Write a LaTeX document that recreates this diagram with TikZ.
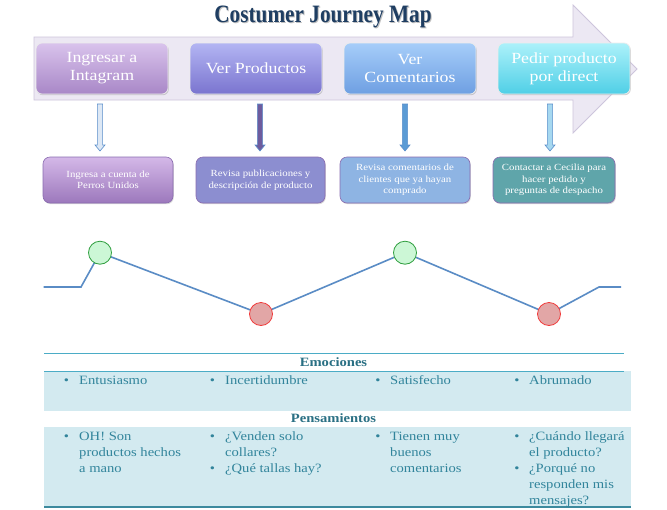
\documentclass[tikz,border=0pt]{standalone}
\usepackage{fontspec}
\setmainfont[FakeStretch=1.15]{Liberation Serif}
\newfontfamily\titlefont[FakeStretch=0.85]{Liberation Serif}
\usetikzlibrary{shadows}
\definecolor{titleblue}{HTML}{1F3E62}
\definecolor{tealtxt}{HTML}{31849B}
\definecolor{tealline}{HTML}{4BACC6}
\definecolor{bandfill}{HTML}{D3EAF0}
\definecolor{bigfill}{HTML}{ECE8F3}
\definecolor{bigdraw}{HTML}{CDC5DC}
\definecolor{chartline}{HTML}{5A8CC5}
\definecolor{goodfill}{HTML}{CCF7D6}
\definecolor{gooddraw}{HTML}{2E9E3E}
\definecolor{badfill}{HTML}{E2A6A6}
\definecolor{baddraw}{HTML}{F03C3C}
\definecolor{arrdraw}{HTML}{5B8FCB}
\definecolor{descdraw}{HTML}{8A6CB0}
\definecolor{sAtop}{HTML}{D9C3EC}\definecolor{sAbot}{HTML}{A887C7}
\definecolor{sBtop}{HTML}{B3B5F3}\definecolor{sBbot}{HTML}{7A74CF}
\definecolor{sCtop}{HTML}{A6CDF9}\definecolor{sCbot}{HTML}{6E9FE2}
\definecolor{sDtop}{HTML}{ACF1FA}\definecolor{sDbot}{HTML}{4FCFE6}
\definecolor{dAtop}{HTML}{D4B8E8}\definecolor{dAbot}{HTML}{9C78BC}
\definecolor{dB}{HTML}{8C8ED0}
\definecolor{dC}{HTML}{8EB4E3}
\definecolor{dD}{HTML}{5FA5AA}
\definecolor{aA}{HTML}{DDE8F5}
\definecolor{aB}{HTML}{6E5C9E}
\definecolor{aC}{HTML}{5B9BD5}
\definecolor{aD}{HTML}{A6D8F0}
\begin{document}
\begin{tikzpicture}[x=1pt,y=-1pt,
  stepbox/.style={rounded corners=6pt, minimum width=132pt, minimum height=51pt,
    text=white, align=center, inner sep=2pt, draw=white!85!gray, line width=0.7pt,
    drop shadow={shadow xshift=0.8pt, shadow yshift=-1.2pt, opacity=0.35},
    font=\fontsize{15.5}{18}\selectfont},
  descbox/.style={rounded corners=7pt, minimum height=46pt, text=white, align=center,
    inner sep=2pt, draw=descdraw, line width=0.6pt,
    drop shadow={shadow xshift=0.8pt, shadow yshift=-1.2pt, opacity=0.3},
    font=\fontsize{9.4}{11.5}\selectfont},
  blockarrow/.style={draw=arrdraw, line width=0.6pt, line join=miter},
  mood/.style={circle, minimum size=23pt, inner sep=0pt, line width=0.8pt},
  good/.style={mood, fill=goodfill, draw=gooddraw},
  bad/.style={mood, fill=badfill, draw=baddraw},
  bul/.style={anchor=base, inner sep=0pt, text=tealtxt, font=\fontsize{12.7}{16}\selectfont},
  btext/.style={anchor=north west, inner sep=0pt, align=left, text=tealtxt,
    font=\fontsize{12.7}{16}\selectfont},
  headtxt/.style={anchor=base, inner sep=0pt, text=tealtxt!85!black, font=\bfseries\fontsize{12.7}{16}\selectfont}
]
\useasboundingbox (0,0) rectangle (667,509);
\fill[white] (0,0) rectangle (667,509);

% big arrow
\draw[bigdraw, fill=bigfill, line width=0.8pt, line join=miter]
  (34,37) -- (573,37) -- (573,5) -- (637,69) -- (573,133) -- (573,100) -- (34,100) -- cycle;

% title
\node[anchor=base, inner sep=0pt, text=black!25] (titleshadow) at (324,23)
  {\titlefont\bfseries\fontsize{25}{25}\selectfont Costumer Journey Map};
\node[anchor=base, inner sep=0pt, text=titleblue] (title) at (323,22)
  {\titlefont\bfseries\fontsize{25}{25}\selectfont Costumer Journey Map};

% step boxes
\node[stepbox, top color=sAtop, bottom color=sAbot] (s1) at (102,68.5) {Ingresar a\\Intagram};
\node[stepbox, top color=sBtop, bottom color=sBbot] (s2) at (256,68.5) {Ver Productos};
\node[stepbox, top color=sCtop, bottom color=sCbot] (s3) at (410,68.5) {Ver\\Comentarios};
\node[stepbox, top color=sDtop, bottom color=sDbot] (s4) at (564,68.5) {Pedir producto\\por direct};

% down block arrows
\coordinate (a1) at (100,104);
\coordinate (a2) at (260,104);
\coordinate (a3) at (405,104);
\coordinate (a4) at (550,104);
\foreach \nm/\col in {a1/aA,a2/aB,a3/aC,a4/aD}{
  \draw[blockarrow, fill=\col, shift={(\nm)}]
    (-2.6,0) -- (2.6,0) -- (2.6,41) -- (5,41) -- (0,47) -- (-5,41) -- (-2.6,41) -- cycle;
}

% description boxes
\node[descbox, minimum width=130pt, top color=dAtop, bottom color=dAbot] (d1) at (108,180) {Ingresa a cuenta de\\Perros Unidos};
\node[descbox, minimum width=129pt, fill=dB] (d2) at (260.5,180) {Revisa publicaciones y\\descripción de producto};
\node[descbox, minimum width=130pt, fill=dC] (d3) at (405,180) {Revisa comentarios de\\clientes que ya hayan\\comprado};
\node[descbox, minimum width=122pt, fill=dD] (d4) at (554,180) {Contactar a Cecilia para\\hacer pedido y\\preguntas de despacho};

% emotion curve
\coordinate (c0) at (43.5,287);
\coordinate (c1) at (81,287);
\coordinate (g1p) at (100,252.7);
\coordinate (r1p) at (261,314);
\coordinate (g2p) at (405,252.7);
\coordinate (r2p) at (549,314);
\coordinate (c2) at (599,287);
\coordinate (c3) at (621,287);
\draw[chartline, line width=1.6pt, line join=miter] (c0) -- (c1) -- (g1p) -- (r1p) -- (g2p) -- (r2p) -- (c2) -- (c3);
\node[good] (g1) at (g1p) {};
\node[bad] (r1) at (r1p) {};
\node[good] (g2) at (g2p) {};
\node[bad] (r2) at (r2p) {};

% table
\fill[bandfill] (44,371) rectangle (631,411);
\fill[bandfill] (44,427) rectangle (631,507);
\draw[tealline, line width=1pt] (44,353) -- (624,353);
\draw[tealline, line width=1pt] (44,371) -- (624,371);
\draw[tealline!80!black, line width=1.2pt] (44,507) -- (631,507);

\node[headtxt] (hemo) at (333.5,366.5) {Emociones};
\node[headtxt] (hpen) at (333.5,422.5) {Pensamientos};

% emotions
\node[bul] (eb1) at (66.5,384) {•};
\node[btext] (e1) at (79,372.8) {\strut Entusiasmo};
\node[bul] (eb2) at (212.5,384) {•};
\node[btext] (e2) at (225,372.8) {\strut Incertidumbre};
\node[bul] (eb3) at (378,384) {•};
\node[btext] (e3) at (390,372.8) {\strut Satisfecho};
\node[bul] (eb4) at (517,384) {•};
\node[btext] (e4) at (529,372.8) {\strut Abrumado};

% thoughts
\node[bul] (pb1) at (66.5,440) {•};
\node[btext] (p1) at (79,428.8) {\strut OH! Son\\productos hechos\\a mano};
\node[bul] (pb2) at (212.5,440) {•};
\node[btext] (p2) at (225,428.8) {\strut ¿Venden solo\\collares?};
\node[bul] (pb2b) at (212.5,472) {•};
\node[btext] (p2b) at (225,460.8) {\strut ¿Qué tallas hay?};
\node[bul] (pb3) at (378,440) {•};
\node[btext] (p3) at (390,428.8) {\strut Tienen muy\\buenos\\comentarios};
\node[bul] (pb4) at (517,440) {•};
\node[btext] (p4) at (529,428.8) {\strut ¿Cuándo llegará\\el producto?};
\node[bul] (pb4b) at (517,472) {•};
\node[btext] (p4b) at (529,460.8) {\strut ¿Porqué no\\responden mis\\mensajes?};
\end{tikzpicture}
\end{document}
